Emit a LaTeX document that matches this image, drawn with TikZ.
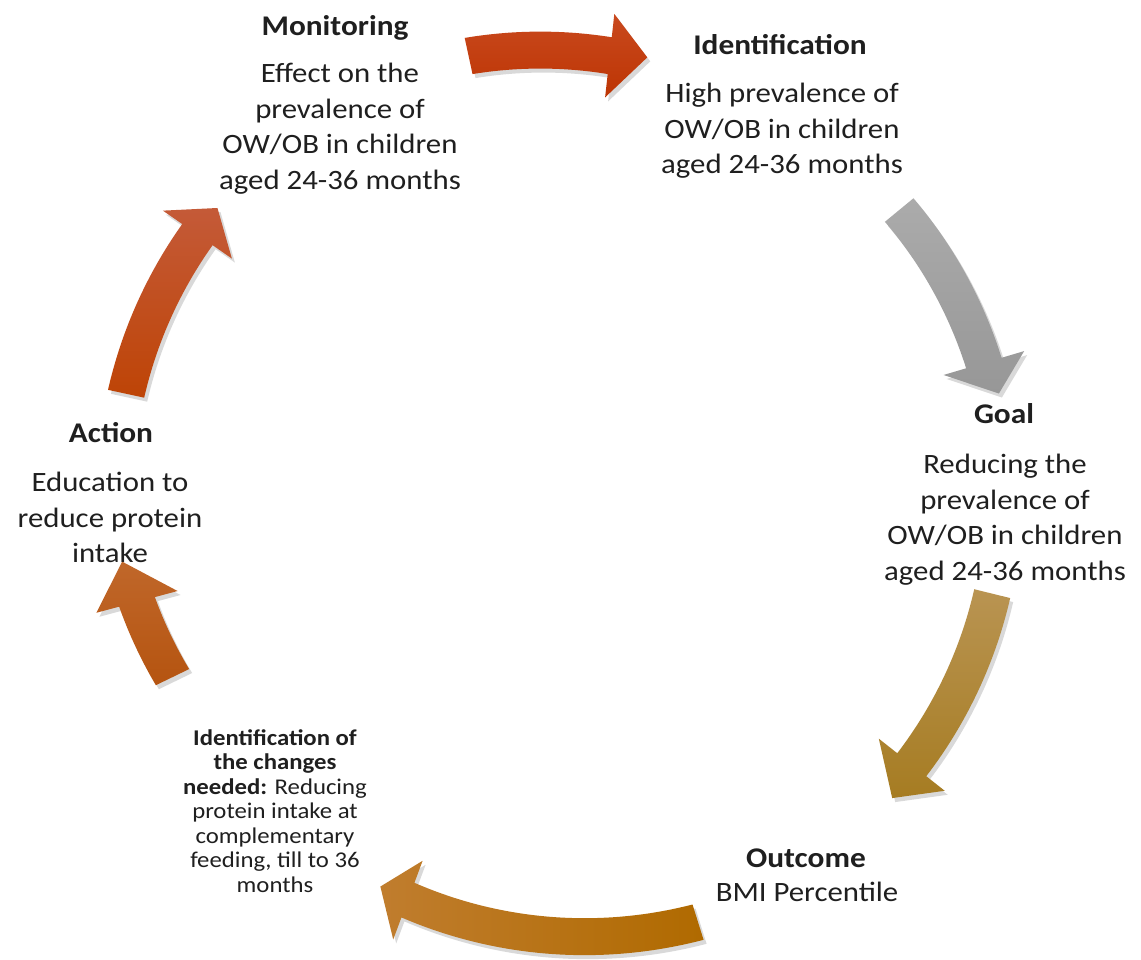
\documentclass[tikz,border=0pt]{standalone}
\usepackage{fontspec}
\setmainfont{Carlito}[FakeStretch=1.1]
\begin{document}
\begin{tikzpicture}[x=1pt,y=-1pt,
  head/.style={font=\bfseries\fontsize{28.5}{34}\selectfont, inner sep=0pt, anchor=base, text=black!88},
  body/.style={font=\fontsize{28}{35.5}\selectfont, align=center, inner sep=0pt, anchor=north, text=black!88},
  small/.style={font=\fontsize{22.5}{24.5}\selectfont, align=center, inner sep=0pt, anchor=north, text=black!88}]
\useasboundingbox (0,0) rectangle (1141,960);
\fill[white] (0,0) rectangle (1141,960);
% cycle geometry: centre (562,488); radius goes from #4 (tail) to #5 (head base), tip at radius #6
\newcommand\arrowshape[6]{plot[domain=#1:#2, samples=40] ({562+(#4+(#5-#4)*(\x-#1)/(#2-#1)+18.5)*cos(\x)},{488+(#4+(#5-#4)*(\x-#1)/(#2-#1)+18.5)*sin(\x)})
  -- ({562+(#5+42)*cos(#2)},{488+(#5+42)*sin(#2)})
  -- ({562+#6*cos(#3)},{488+#6*sin(#3)})
  -- ({562+(#5-42)*cos(#2)},{488+(#5-42)*sin(#2)})
  -- plot[domain=#2:#1, samples=40] ({562+(#4+(#5-#4)*(\x-#1)/(#2-#1)-18.5)*cos(\x)},{488+(#4+(#5-#4)*(\x-#1)/(#2-#1)-18.5)*sin(\x)}) -- cycle}
\newcommand\cycarrow[7]{%
  \begin{scope}[shift={(3,4)}]
    \fill[black, opacity=0.15] \arrowshape{#1}{#2}{#3}{#4}{#5}{#6};
  \end{scope}
  \shade[#7] \arrowshape{#1}{#2}{#3}{#4}{#5}{#6};}
% arrows
\cycarrow{-102.2}{-83.7}{-78.8}{442}{435}{439}{top color={rgb,255:red,201;green,73;blue,30}, bottom color={rgb,255:red,189;green,53;blue,4}}
\cycarrow{-39.5}{-16.5}{-12.2}{437}{440}{447}{top color={rgb,255:red,171;green,171;blue,171}, bottom color={rgb,255:red,151;green,151;blue,151}}
\cycarrow{13.8}{38.35}{43.2}{443}{446}{453}{top color={rgb,255:red,185;green,148;blue,82}, bottom color={rgb,255:red,166;green,124;blue,34}}
\cycarrow{72.6}{110.5}{114.5}{455}{440}{438}{left color={rgb,255:red,192;green,125;blue,46}, right color={rgb,255:red,176;green,106;blue,0}}
\cycarrow{154.1}{165}{170.5}{433}{440}{446}{top color={rgb,255:red,192;green,103;blue,42}, bottom color={rgb,255:red,181;green,84;blue,16}}
\cycarrow{192.2}{214.8}{219.1}{446}{444}{444}{top color={rgb,255:red,196;green,90;blue,56}, bottom color={rgb,255:red,190;green,68;blue,6}}
% texts
\node[head] (monh) at (335,36) {Monitoring};
\node[body] (monb) at (340,63) {Effect on the\\prevalence of\\OW/OB in children\\aged 24-36 months};
\node[head] (idh) at (780,55) {Identification};
\node[body] (idb) at (782,83) {High prevalence of\\OW/OB in children\\aged 24-36 months};
\node[head] (goalh) at (1004,423) {Goal};
\node[body] (goalb) at (1005,454) {Reducing the\\prevalence of\\OW/OB in children\\aged 24-36 months};
\node[head] (outh) at (806,867) {Outcome};
\node[body] (outb) at (807,882) {BMI Percentile};
\node[small] (chg) at (275,729) {\textbf{Identification of}\\\textbf{the changes}\\\textbf{needed:} Reducing\\protein intake at\\complementary\\feeding, till to 36\\months};
\node[head] (acth) at (111,442) {Action};
\node[body] (actb) at (110,472) {Education to\\reduce protein\\intake};
\end{tikzpicture}
\end{document}
